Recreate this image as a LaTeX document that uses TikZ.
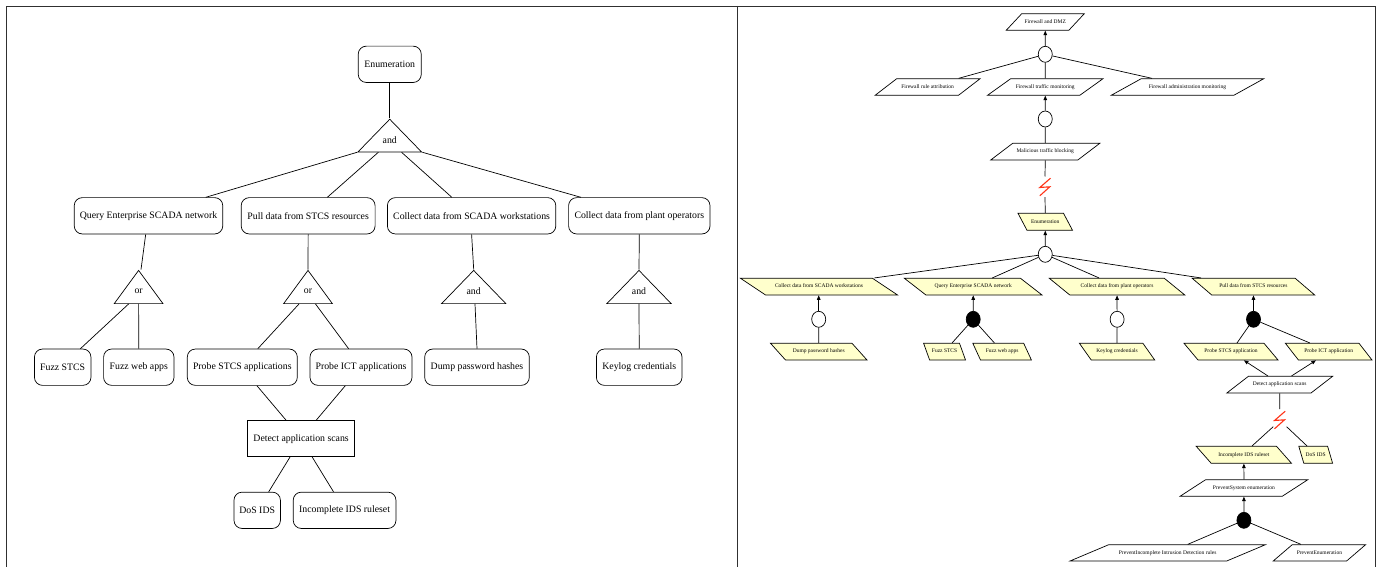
\documentclass[tikz,border=0pt]{standalone}
\usepackage{fontspec}
\setmainfont{Liberation Serif}
\usetikzlibrary{shapes.geometric,arrows.meta}
\definecolor{frameline}{HTML}{303030}
\definecolor{paleyellow}{HTML}{FFFFCC}
\definecolor{boltred}{HTML}{FF3318}
\tikzset{
  x=1bp,y=-1bp,
  lft/.style={font=\fontsize{9.8bp}{11bp}\selectfont},
  rgt/.style={font=\fontsize{5.5bp}{6.5bp}\selectfont},
  goalbox/.style={draw,lft,rounded corners=8bp,inner sep=0pt,line width=.7bp,minimum height=36.3bp},
  defbox/.style={draw,lft,inner sep=0pt,line width=.7bp,minimum height=36bp},
  gate/.style={draw,lft,isosceles triangle,shape border rotate=90,isosceles triangle stretches,inner sep=0pt,line width=.7bp,anchor=apex},
  edge/.style={line width=.7bp},
  arrowedge/.style={line width=.7bp,-{Triangle[length=4.5bp,width=3.6bp]}},
  opencirc/.style={draw,fill=white,ellipse,minimum width=14bp,minimum height=16bp,inner sep=0pt,line width=.7bp},
  fullcirc/.style={draw,fill=black,ellipse,minimum width=14bp,minimum height=16bp,inner sep=0pt,line width=.7bp},
  bolt/.style={draw=boltred,line width=1.1bp}
}
% name, x left, x right, y top, y bottom, slant, fill, text
\newcommand\pgram[8]{%
  \pgfmathsetmacro\pgcx{(#2+#3)/2}%
  \pgfmathsetmacro\pgcy{(#4+#5)/2}%
  \pgfmathsetmacro\pgang{atan2(#5-#4,#6)}%
  \pgfmathsetmacro\pgangr{180-\pgang}%
  \pgfmathsetmacro\pgth{(#5-#4)/2+1.3}%
  \pgfmathsetmacro\pgtd{(#5-#4)/2-1.3}%
  \node[draw,fill=#7,rgt,trapezium,trapezium stretches body=true,trapezium left angle=\pgang,trapezium right angle=\pgangr,
    text height=\pgth bp,text depth=\pgtd bp,
    minimum width={(#3-#2)*1bp},inner sep=0pt,line width=.7bp] (#1) at (\pgcx,\pgcy) {#8};%
}
% name, centre x, apex y, base width, height, text
\newcommand\gatetri[6]{%
  \node[gate,minimum width=#4 bp,minimum height=#5 bp] (#1) at (#2,#3) {};%
  \node[lft] (#1text) at (#2,#3+#5*0.66) {#6};%
}
% name, x, y
\newcommand\boltmark[3]{%
  \coordinate (#1) at (#2,#3);%
  \draw[bolt] ([shift={(5.5,-8.8)}]#1) -- ([shift={(-5.2,0.5)}]#1) -- ([shift={(4.8,-0.2)}]#1) -- ([shift={(-5.2,8.8)}]#1);%
}
\begin{document}
\begin{tikzpicture}
\useasboundingbox (0,0) rectangle (1376,567);
\fill[white] (0,0) rectangle (1376,567);
\draw[frameline,line width=.8bp] (6,567) -- (6,6) -- (1375.4,6) -- (1375.4,567);
\draw[frameline,line width=.8bp] (737.3,6) -- (737.3,567);

% ---------- left tree
\node[goalbox,minimum width=63bp] (Lenum) at (389.75,64.3) {Enumeration};
\gatetri{Land}{389.75}{118.3}{63.5}{32.7}{and}
\node[goalbox,minimum width=148.5bp] (Lquery) at (148.5,215.8) {Query Enterprise SCADA network};
\node[goalbox,minimum width=133.9bp] (Lpull) at (308.15,215.8) {Pull data from STCS resources};
\node[goalbox,minimum width=168.4bp] (Lscada) at (471.6,215.8) {Collect data from SCADA workstations};
\node[goalbox,minimum width=141.4bp] (Lplant) at (639.3,215.8) {Collect data from plant operators};
\gatetri{Lora}{138.6}{269.5}{48.7}{33.2}{or}
\gatetri{Lorb}{308}{269.5}{48.7}{33.2}{or}
\gatetri{Landc}{473.7}{269.5}{64.3}{33.2}{and}
\gatetri{Landd}{639}{269.5}{64.3}{33.2}{and}
\node[goalbox,minimum width=56.5bp] (Lfuzzs) at (62.7,367.2) {Fuzz STCS};
\node[goalbox,minimum width=70.4bp] (Lfuzzw) at (138.8,367.2) {Fuzz web apps};
\node[goalbox,minimum width=110bp] (Lprobes) at (242.3,367.2) {Probe STCS applications};
\node[goalbox,minimum width=102bp] (Lprobei) at (361,367.2) {Probe ICT applications};
\node[goalbox,minimum width=104.6bp] (Ldump) at (477,367.2) {Dump password hashes};
\node[goalbox,minimum width=85.6bp] (Lkey) at (639.2,367.2) {Keylog credentials};
\node[defbox,minimum width=107.4bp] (Ldetect) at (301.1,438.7) {Detect application scans};
\node[goalbox,minimum width=46.4bp] (Ldos) at (257.2,510.3) {DoS IDS};
\node[goalbox,minimum width=102.7bp] (Linc) at (344.6,510.3) {Incomplete IDS ruleset};

\draw[edge] (Lenum.south) -- (Land.apex);
\draw[edge] (Land.left corner) -- ([xshift=57.3bp]Lquery.north);
\draw[edge] ([xshift=-11.4bp]Land.lower side) -- ([xshift=19.2bp]Lpull.north);
\draw[edge] ([xshift=11.8bp]Land.lower side) -- ([xshift=-19.8bp]Lscada.north);
\draw[edge] (Land.right corner) -- ([xshift=-58.4bp]Lplant.north);
\draw[edge] ([xshift=-2.8bp]Lquery.south) -- ([xshift=2.4bp]Lora.apex);
\draw[edge] (Lpull.south) -- (Lorb.apex);
\draw[edge] (Lscada.south) -- (Landc.apex);
\draw[edge] (Lplant.south) -- (Landd.apex);
\draw[edge] ([xshift=-10bp]Lora.lower side) -- ([xshift=17.7bp]Lfuzzs.north);
\draw[edge] (Lora.lower side) -- (Lfuzzw.north);
\draw[edge] ([xshift=-9bp]Lorb.lower side) -- ([xshift=15.5bp]Lprobes.north);
\draw[edge] ([xshift=7.5bp]Lorb.lower side) -- ([xshift=-12.4bp]Lprobei.north);
\draw[edge] ([xshift=1.3bp]Landc.lower side) -- (Ldump.north);
\draw[edge] (Landd.lower side) -- (Lkey.north);
\draw[edge] ([xshift=14.6bp]Lprobes.south) -- ([xshift=-14.9bp]Ldetect.north);
\draw[edge] ([xshift=-15.7bp]Lprobei.south) -- ([xshift=15bp]Ldetect.north);
\draw[edge] ([xshift=-11.1bp]Ldetect.south) -- ([xshift=11.5bp]Ldos.north);
\draw[edge] ([xshift=11.1bp]Ldetect.south) -- ([xshift=-11.1bp]Linc.north);

% ---------- right tree
\pgram{Rdmz}{1006.2}{1084.3}{13.7}{30.3}{15.5}{white}{Firewall and DMZ}
\node[opencirc] (Rca) at (1045.25,54.3) {};
\pgram{Rrule}{875.1}{980.1}{78.7}{95.3}{21.6}{white}{Firewall rule attribution}
\pgram{Rtraffic}{987.5}{1103}{78.7}{95.3}{23.2}{white}{Firewall traffic monitoring}
\pgram{Radmin}{1111.2}{1263.8}{78.7}{95.3}{30}{white}{Firewall administration monitoring}
\node[opencirc] (Rcb) at (1045.25,119) {};
\pgram{Rmal}{990.7}{1099.8}{143.3}{160}{22}{white}{Malicious traffic blocking}
\boltmark{Rba}{1045}{187}
\pgram{Renum}{1018}{1072.5}{213.3}{230.3}{-9}{paleyellow}{Enumeration}
\node[opencirc] (Rcc) at (1045.25,254.3) {};
\pgram{Rscada}{740.5}{897.5}{278.3}{295}{-25}{paleyellow}{Collect data from SCADA workstations}
\pgram{Rquery}{904.4}{1042}{278.3}{295}{-21.5}{paleyellow}{Query Enterprise SCADA network}
\pgram{Rplant}{1049.3}{1184.8}{278.3}{295}{-20.5}{paleyellow}{Collect data from plant operators}
\pgram{Rpull}{1192.2}{1314.7}{278.3}{295}{-19.5}{paleyellow}{Pull data from STCS resources}
\node[opencirc] (Rcd) at (818.7,319.3) {};
\node[fullcirc] (Rce) at (973.2,319.3) {};
\node[opencirc] (Rcf) at (1117.1,319.3) {};
\node[fullcirc] (Rcg) at (1253.5,319.3) {};
\pgram{Rdump}{770.5}{867}{343.3}{360}{-15}{paleyellow}{Dump password hashes}
\pgram{Rfuzzs}{923.6}{965.5}{343.3}{360}{-6}{paleyellow}{Fuzz STCS}
\pgram{Rfuzzw}{972.8}{1031.4}{343.3}{360}{-7.7}{paleyellow}{Fuzz web apps}
\pgram{Rkey}{1079.4}{1154.7}{343.3}{360}{-11.8}{paleyellow}{Keylog credentials}
\pgram{Rprobes}{1184}{1278}{343.3}{360}{-14}{paleyellow}{Probe STCS application}
\pgram{Rprobei}{1285.4}{1372}{343.3}{360}{-13}{paleyellow}{Probe ICT application}
\pgram{Rdetect}{1226.8}{1332.6}{376.3}{393}{21.6}{white}{Detect application scans}
\boltmark{Rbb}{1279.7}{420}
\pgram{Rinc}{1196.2}{1291.5}{446.3}{463.3}{-15}{paleyellow}{Incomplete IDS ruleset}
\pgram{Rdos}{1298.8}{1332.6}{446.3}{463.3}{-5}{paleyellow}{DoS IDS}
\pgram{Rprevs}{1180}{1307.8}{479.7}{496.3}{25.6}{white}{PreventSystem enumeration}
\node[fullcirc] (Rch) at (1243.9,520.3) {};
\pgram{Rprevi}{1070}{1265.4}{544.7}{561}{38.7}{white}{PreventIncomplete Intrusion Detection rules}
\pgram{Rpreve}{1273.2}{1365.6}{544.7}{561}{19}{white}{PreventEnumeration}

\draw[arrowedge] (Rca) -- (Rdmz.south);
\draw[edge] ([xshift=31bp]Rrule.north) -- (Rca);
\draw[edge] (Rtraffic.north) -- (Rca);
\draw[edge] ([xshift=-35.5bp]Radmin.north) -- (Rca);
\draw[arrowedge] (Rcb) -- (Rtraffic.south);
\draw[edge] (Rmal.north) -- (Rcb);
\draw[edge] (Rmal.south) -- ([yshift=10.5bp]Rba);
\draw[edge] ([yshift=-10.2bp]Rba) -- (Renum.north);
\draw[arrowedge] (Rcc) -- (Renum.south);
\draw[edge] ([xshift=55.3bp]Rscada.north) -- (Rcc);
\draw[edge] ([xshift=19.1bp]Rquery.north) -- (Rcc);
\draw[edge] ([xshift=-18bp]Rplant.north) -- (Rcc);
\draw[edge] ([xshift=-52.5bp]Rpull.north) -- (Rcc);
\draw[arrowedge] (Rcd) -- (Rscada.south -| Rcd);
\draw[arrowedge] (Rce) -- (Rquery.south);
\draw[arrowedge] (Rcf) -- (Rplant.south);
\draw[arrowedge] (Rcg) -- (Rpull.south);
\draw[edge] (Rdump.north) -- (Rcd);
\draw[edge] ([xshift=7.5bp]Rfuzzs.north) -- (Rce);
\draw[edge] ([xshift=-7.7bp]Rfuzzw.north) -- (Rce);
\draw[edge] (Rkey.north) -- (Rcf);
\draw[edge] ([xshift=6bp]Rprobes.north) -- (Rcg);
\draw[edge] ([xshift=-18.9bp]Rprobei.north) -- (Rcg);
\draw[arrowedge] ([xshift=-11.8bp]Rdetect.north) -- ([xshift=12.9bp]Rprobes.south);
\draw[arrowedge] ([xshift=11.8bp]Rdetect.north) -- ([xshift=-12.8bp]Rprobei.south);
\draw[edge] (Rdetect.south) -- ([yshift=11bp]Rbb);
\draw[edge] ([shift={(-6.5bp,-6.7bp)}]Rbb) -- ([xshift=8.2bp]Rinc.north);
\draw[edge] ([shift={(6.9bp,-6.7bp)}]Rbb) -- ([xshift=-8.7bp]Rdos.north);
\draw[arrowedge] (Rprevs.north) -- (Rinc.south);
\draw[arrowedge] (Rch) -- (Rprevs.south);
\draw[edge] ([xshift=20bp]Rprevi.north) -- (Rch);
\draw[edge] ([xshift=-18.5bp]Rpreve.north) -- (Rch);
\end{tikzpicture}
\end{document}
